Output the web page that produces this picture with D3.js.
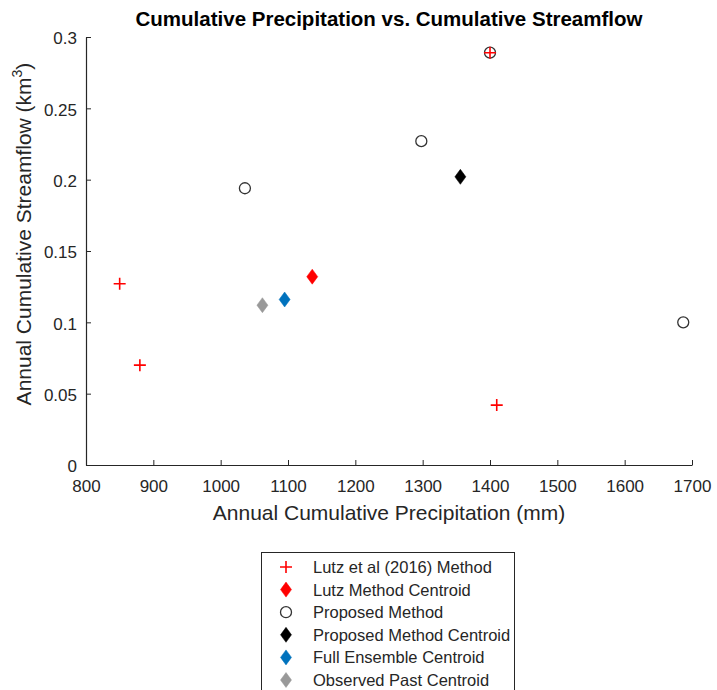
<!DOCTYPE html>
<html lang="en">
<head>
  <meta charset="UTF-8">
  <title>Cumulative Precipitation vs. Cumulative Streamflow</title>
  <script src="https://cdn.jsdelivr.net/npm/d3@7"></script>
<style>
  body { margin: 0; background: #fff; }
  text { font-family: "Liberation Sans", Arial, sans-serif; }
</style>
</head>

<body>
  <script>
    // values (precipitation mm, streamflow km3)
    var lutzX = [850, 880, 1410, 1400];
    var lutzY = [0.127, 0.070, 0.042, 0.289];
    var propX = [1036, 1298, 1400, 1687];
    var propY = [0.194, 0.227, 0.289, 0.100];
    var lutzCentroid = [1136, 0.132];
    var propCentroid = [1356, 0.202];
    var fullCentroid = [1095, 0.116];
    var pastCentroid = [1062, 0.112];

    var xTicks = [800, 900, 1000, 1100, 1200, 1300, 1400, 1500, 1600, 1700];
    var yTicks = [0, 0.05, 0.1, 0.15, 0.2, 0.25, 0.3];
    var legendLabels = ['Lutz et al (2016) Method', 'Lutz Method Centroid', 'Proposed Method',
                        'Proposed Method Centroid', 'Full Ensemble Centroid', 'Observed Past Centroid'];

    var w = 717, h = 690;
    // note: can't call it "top", window.top is read-only
    var mLeft = 86, mRight = 692, mTop = 37, mBottom = 465;
    var axisColor = '#262626';

    var svg = d3.select('body').append('svg')
      .attr('width', w).attr('height', h);

    var x = d3.scaleLinear().domain([800, 1700]).range([mLeft, mRight]);
    var y = d3.scaleLinear().domain([0, 0.3]).range([mBottom, mTop]);

    // axes, MATLAB style with ticks pointing inward
    var xAxis = svg.append('g')
      .attr('transform', `translate(0,${mBottom})`)
      .call(d3.axisBottom(x).tickValues(xTicks).tickSizeInner(-5).tickSizeOuter(0).tickPadding(15).tickFormat(d3.format('d')));
    var yAxis = svg.append('g')
      .attr('transform', `translate(${mLeft},0)`)
      .call(d3.axisLeft(y).tickValues(yTicks).tickSizeInner(-5).tickSizeOuter(0).tickPadding(9).tickFormat(d => d));

    [xAxis, yAxis].forEach(function(g) {
      g.select('.domain').attr('stroke', axisColor).attr('stroke-width', 1.2);
      g.selectAll('.tick line').attr('stroke', axisColor);
      g.selectAll('.tick text').attr('fill', axisColor).attr('font-size', '17px')
        .attr('font-family', '"Liberation Sans", Arial, sans-serif');
    });
    yAxis.selectAll('.tick text').attr('dy', '0.4em');

    svg.append('text')
      .attr('x', (mLeft + mRight) / 2).attr('y', 26)
      .attr('text-anchor', 'middle')
      .attr('font-size', '20.5px').attr('font-weight', 'bold').attr('fill', '#000')
      .text('Cumulative Precipitation vs. Cumulative Streamflow');

    svg.append('text')
      .attr('x', (mLeft + mRight) / 2).attr('y', 520)
      .attr('text-anchor', 'middle')
      .attr('font-size', '21px').attr('fill', axisColor)
      .text('Annual Cumulative Precipitation (mm)');

    var yl = svg.append('text')
      .attr('transform', 'translate(31,234) rotate(-90)')
      .attr('text-anchor', 'middle')
      .attr('font-size', '21px').attr('fill', axisColor);
    yl.append('tspan').text('Annual Cumulative Streamflow (km');
    yl.append('tspan').attr('font-size', '14px').attr('dy', -9).text('3');
    yl.append('tspan').attr('dy', 9).text(')');

    // marker helpers
    function plus(g, cx, cy) {
      g.append('path')
        .attr('d', `M${cx - 6},${cy}H${cx + 6}M${cx},${cy - 6}V${cy + 6}`)
        .attr('stroke', '#ff0000').attr('stroke-width', 1.6).attr('fill', 'none');
    }
    function circle(g, cx, cy) {
      g.append('circle').attr('cx', cx).attr('cy', cy).attr('r', 5.5)
        .attr('fill', 'none').attr('stroke', '#333').attr('stroke-width', 1.3);
    }
    function diamond(g, cx, cy, col) {
      g.append('path')
        .attr('d', `M${cx},${cy - 7.5}L${cx + 5.5},${cy}L${cx},${cy + 7.5}L${cx - 5.5},${cy}Z`)
        .attr('fill', col).attr('stroke', col).attr('stroke-width', 0.5);
    }

    var pts = svg.append('g');
    propX.forEach((d, i) => circle(pts, x(d), y(propY[i])));
    lutzX.forEach((d, i) => plus(pts, x(d), y(lutzY[i])));
    diamond(pts, x(lutzCentroid[0]), y(lutzCentroid[1]), '#ff0000');
    diamond(pts, x(propCentroid[0]), y(propCentroid[1]), '#000000');
    diamond(pts, x(fullCentroid[0]), y(fullCentroid[1]), '#0072bd');
    diamond(pts, x(pastCentroid[0]), y(pastCentroid[1]), '#999999');

    // legend
    var lg = svg.append('g');
    lg.append('rect').attr('x', 261.5).attr('y', 552.5).attr('width', 253).attr('height', 150)
      .attr('fill', '#fff').attr('stroke', axisColor).attr('stroke-width', 1);
    var rowY = d3.scalePoint().domain(legendLabels).range([567, 680]);
    var mx = 286;
    plus(lg, mx, rowY(legendLabels[0]));
    diamond(lg, mx, rowY(legendLabels[1]), '#ff0000');
    circle(lg, mx, rowY(legendLabels[2]));
    diamond(lg, mx, rowY(legendLabels[3]), '#000000');
    diamond(lg, mx, rowY(legendLabels[4]), '#0072bd');
    diamond(lg, mx, rowY(legendLabels[5]), '#999999');
    lg.selectAll('text.lab')
      .data(legendLabels)
      .enter()
      .append('text')
      .attr('class', 'lab')
      .attr('x', 313)
      .attr('y', d => rowY(d) + 6)
      .attr('font-size', '16.5px')
      .attr('fill', axisColor)
      .text(d => d);
  </script>
</body>
</html>
